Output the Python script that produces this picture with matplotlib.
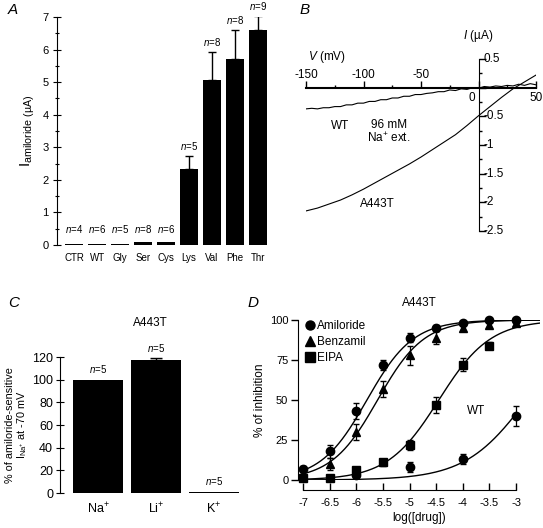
import numpy as np
import matplotlib
matplotlib.use('Agg')
import matplotlib.pyplot as plt

plt.rcParams['font.family'] = ['Liberation Sans', 'DejaVu Sans']
plt.rcParams['mathtext.fontset'] = 'custom'
plt.rcParams['mathtext.rm'] = 'Liberation Sans'
plt.rcParams['mathtext.it'] = 'Liberation Sans:italic'

W, H = 543, 528

# ---- panel A : amiloride-sensitive current per mutant
mutantes = ['CTR', 'WT', 'Gly', 'Ser', 'Cys', 'Lys', 'Val', 'Phe', 'Thr']
corrente = [0.02, 0.03, 0.02, 0.09, 0.09, 2.33, 5.07, 5.72, 6.60]
erro_corrente = [0.0, 0.0, 0.0, 0.0, 0.0, 0.40, 0.85, 0.88, 0.43]
n_a = [4, 6, 5, 8, 6, 5, 8, 8, 9]

# ---- panel B : I/V curves
v_wt = [-150, -145, -140, -135, -130, -125, -120, -115, -110, -105, -100, -95, -90,
        -85, -80, -75, -70, -65, -60, -55, -50, -45, -40, -35, -30, -25, -20, -15,
        -10, -5, 0, 5, 10, 15, 20, 25, 30, 35, 40, 45, 50]
i_wt = [-0.37, -0.36, -0.37, -0.35, -0.35, -0.33, -0.33, -0.30, -0.30, -0.27, -0.27,
        -0.24, -0.24, -0.21, -0.21, -0.18, -0.18, -0.15, -0.15, -0.12, -0.12, -0.10,
        -0.09, -0.07, -0.07, -0.04, -0.05, -0.02, -0.03, 0.0, -0.01, 0.02, 0.01, 0.03,
        0.02, 0.04, 0.03, 0.06, 0.04, 0.07, 0.05]
v_mut = [-150, -140, -130, -120, -110, -100, -90, -80, -70, -60, -50, -40, -30, -20,
         -10, 0, 10, 20, 30, 40, 50]
i_mut = [-2.15, -2.10, -2.03, -1.96, -1.87, -1.77, -1.66, -1.55, -1.44, -1.33, -1.21,
         -1.08, -0.95, -0.82, -0.66, -0.49, -0.33, -0.17, -0.02, 0.10, 0.22]

# ---- panel C : ion selectivity
ions = ['Na$^{+}$', 'Li$^{+}$', 'K$^{+}$']
rel_corrente = [100, 117, 1]
erro_rel = [0, 2, 0]

# ---- panel D : inhibition curves
log_droga = [-7, -6.5, -6, -5.5, -5, -4.5, -4, -3.5, -3]
amilorida = [7, 18, 43, 72, 89, 95, 98, 100, 100]
erro_amil = [2, 4, 5, 3, 3, 2, 1, 1, 1]
benzamil = [3, 10, 30, 57, 78, 89, 95, 97, 98]
erro_benz = [1, 4, 5, 5, 6, 4, 2, 2, 1]
log_eipa = [-7, -6.5, -6, -5.5, -5, -4.5, -4, -3.5]
eipa = [1, 1.5, 6, 11, 22, 47, 72, 84]
erro_eipa = [1, 1, 2, 2, 3, 5, 4, 2]
log_wt = [-6, -5, -4, -3]
wt_inib = [3, 8, 13, 40]
erro_wt = [1, 3, 3, 6]
# fitted IC50 (log), Hill coefficient, end of the drawn curve
ajustes = {'amil': (-5.8, 1.0, -2.55), 'benz': (-5.6, 1.0, -2.55),
           'eipa': (-4.45, 0.9, -2.55), 'wt': (-2.8, 0.75, -3.0)}


def eixo(x0, y0, x1, y1):
    # axes from pixel box (top-left origin)
    return fig.add_axes([x0 / W, 1 - y1 / H, (x1 - x0) / W, (y1 - y0) / H])


fig = plt.figure(figsize=(W / 100, H / 100), dpi=100)

# ================= A
axA = eixo(57, 17, 270, 245)
x = np.arange(len(mutantes))
axA.bar(x, corrente, width=0.78, color='black')
axA.errorbar(x[5:], corrente[5:], yerr=[np.zeros(4), erro_corrente[5:]], fmt='none',
             ecolor='black', elinewidth=1, capsize=3)
for i in range(len(mutantes)):
    topo = corrente[i] + erro_corrente[i]
    yy = topo + 0.12 if i >= 5 else 0.3
    axA.text(x[i], yy, '$n$=%d' % n_a[i], ha='center', va='bottom', fontsize=7)
axA.set_xlim(-0.74, 8.52)
axA.set_ylim(0, 7)
axA.set_xticks(x)
axA.set_xticklabels(mutantes, fontsize=7)
axA.tick_params(axis='x', length=0, pad=6)
axA.set_yticks(range(8))
axA.set_yticks(np.arange(0.5, 7, 1), minor=True)
axA.tick_params(axis='y', direction='inout', length=6, width=0.8, labelsize=8, pad=3)
axA.tick_params(axis='y', which='minor', direction='inout', length=3, width=0.8)
for s in ['top', 'right', 'bottom']:
    axA.spines[s].set_visible(False)
axA.set_ylabel('I$_{\\mathrm{amiloride\\ (µA)}}$', fontsize=11, labelpad=4)
fig.text(8 / W, 1 - 10 / H, 'A', fontsize=11, style='italic', va='center')

# ================= B
axB = eixo(306, 59, 536, 231)
axB.plot(v_wt, i_wt, color='black', lw=0.8)
axB.plot(v_mut, i_mut, color='black', lw=0.8)
axB.set_xlim(-150, 50)
axB.set_ylim(-2.5, 0.5)
axB.spines['left'].set_position(('data', 0))
axB.spines['bottom'].set_position(('data', 0))
axB.spines['bottom'].set_linewidth(1.5)
axB.spines['top'].set_visible(False)
axB.spines['right'].set_visible(False)
axB.set_xticks([-150, -100, -50, 0, 50])
axB.set_xticks([-125, -75, -25, 25], minor=True)
axB.set_yticks([0.5, 0, -0.5, -1, -1.5, -2, -2.5])
axB.set_yticks(np.arange(-2.25, 0.5, 0.5), minor=True)
axB.tick_params(which='both', direction='in', labelbottom=False, labelleft=False)
axB.tick_params(which='major', length=5, width=1)
axB.tick_params(which='minor', length=2.5, width=1)
for v in [-150, -100, -50]:
    axB.text(v, 0.12, str(v), ha='center', va='bottom', fontsize=8.5)
axB.text(-6, -0.08, '0', ha='center', va='top', fontsize=8.5)
axB.text(50, -0.08, '50', ha='center', va='top', fontsize=8.5)
for yv in [0.5, -0.5, -1, -1.5, -2, -2.5]:
    axB.text(4.5, yv, '%g' % yv, ha='left', va='center', fontsize=8.5)
axB.text(-132, 0.54, '$V$ (mV)', ha='center', va='center', fontsize=8.5)
axB.text(0, 0.9, '$I$ (µA)', ha='center', va='center', fontsize=8.5)
axB.text(-120, -0.66, 'WT', ha='center', va='center', fontsize=8.5)
axB.text(-78, -0.78, '96 mM\nNa$^{+}$ ext.', ha='center', va='center', fontsize=8.5,
         linespacing=1.0)
axB.text(-88, -2.03, 'A443T', ha='center', va='center', fontsize=8.5)
fig.text(300 / W, 1 - 10 / H, 'B', fontsize=11, style='italic', va='center')

# ================= C
axC = eixo(60, 357, 240, 493)
xc = np.arange(len(ions))
axC.bar(xc, rel_corrente, width=0.87, color='black')
axC.errorbar(xc[1], rel_corrente[1], yerr=[[0], [erro_rel[1]]], fmt='none',
             ecolor='black', elinewidth=1, capsize=4)
for i in range(len(ions)):
    axC.text(xc[i], rel_corrente[i] + erro_rel[i] + 4, '$n$=5', ha='center',
             va='bottom', fontsize=7)
axC.set_xlim(-0.655, 2.45)
axC.set_ylim(0, 120)
axC.set_xticks(xc)
axC.set_xticklabels(ions, fontsize=9)
axC.tick_params(axis='x', length=0, pad=6)
axC.set_yticks(range(0, 121, 20))
axC.tick_params(axis='y', direction='inout', length=6, width=0.8, labelsize=9, pad=2)
for s in ['top', 'right', 'bottom']:
    axC.spines[s].set_visible(False)
axC.set_ylabel('% of amiloride-sensitive\n$\\mathregular{I}_{\\mathrm{Na^{+}}}$ at -70 mV',
               fontsize=7.8, labelpad=2, linespacing=1.0)
axC.set_title('A443T', fontsize=8.5, pad=22)
fig.text(8 / W, 1 - 303 / H, 'C', fontsize=11, style='italic', va='center')

# ================= D
axD = eixo(298, 320, 540, 480)
for chave in ['amil', 'benz', 'eipa', 'wt']:
    ic50, nh, fim = ajustes[chave]
    xx = np.linspace(-7, fim, 200)
    axD.plot(xx, 100 / (1 + 10 ** ((ic50 - xx) * nh)), color='black', lw=1)
kw = dict(color='black', ecolor='black', elinewidth=0.9, capsize=2, ms=6, ls='none',
          clip_on=False)
axD.errorbar(log_wt, wt_inib, yerr=erro_wt, fmt='o', **kw)
axD.errorbar(log_eipa, eipa, yerr=erro_eipa, fmt='s', **kw)
axD.errorbar(log_droga, benzamil, yerr=erro_benz, fmt='^', **kw)
axD.errorbar(log_droga, amilorida, yerr=erro_amil, fmt='o', **kw)
h1, = axD.plot([], [], 'ko', ms=6.5)
h2, = axD.plot([], [], 'k^', ms=6.5)
h3, = axD.plot([], [], 'ks', ms=6.5)
axD.legend([h1, h2, h3], ['Amiloride', 'Benzamil', 'EIPA'], loc='upper left',
           bbox_to_anchor=(0.035, 1.0), frameon=False, fontsize=8.5, handlelength=0.6,
           handletextpad=0.3, labelspacing=0.35, borderpad=0, borderaxespad=0)
axD.set_xlim(-7.094, -2.55)
axD.set_ylim(0, 100)
axD.set_xticks([-7, -6.5, -6, -5.5, -5, -4.5, -4, -3.5, -3])
axD.set_xticklabels(['-7', '-6.5', '-6', '-5.5', '-5', '-4.5', '-4', '-3.5', '-3'])
axD.set_yticks([0, 25, 50, 75, 100])
axD.spines['top'].set_visible(False)
axD.spines['right'].set_visible(False)
axD.spines['bottom'].set_position(('outward', 7))
axD.spines['bottom'].set_bounds(-7, -3)
axD.tick_params(axis='x', direction='in', length=5, width=1, labelsize=8, pad=6)
axD.tick_params(axis='y', direction='out', length=5, width=1, labelsize=8, pad=2)
axD.set_xlabel('log([drug])', fontsize=8.5, labelpad=3)
axD.set_ylabel('% of inhibition', fontsize=8.5, labelpad=3)
axD.set_title('A443T', fontsize=8.5, pad=10)
axD.text(-3.75, 43, 'WT', ha='center', va='center', fontsize=8.5)
fig.text(248 / W, 1 - 303 / H, 'D', fontsize=11, style='italic', va='center')

fig.savefig('out.png', dpi=100)
